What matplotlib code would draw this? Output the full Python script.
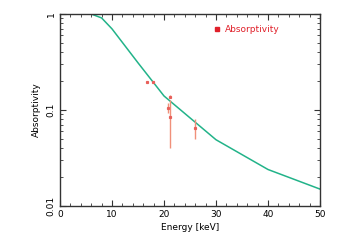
import matplotlib.pyplot as plt
from matplotlib.ticker import FixedLocator, NullFormatter

# model curve
energy = [0, 2, 4, 6, 8, 10, 15, 20, 30, 40, 50]
absorp = [1.0, 1.0, 1.0, 1.0, 0.91, 0.70, 0.31, 0.14, 0.049, 0.024, 0.015]

# measured points
meas_e = [16.8, 17.9, 20.8, 21.2, 21.2, 26.0]
meas_a = [0.197, 0.194, 0.106, 0.084, 0.138, 0.065]
meas_err = [0.005, 0.004, 0.012, 0.044, 0.005, 0.015]

fig = plt.figure(figsize=(3.54, 2.45), dpi=100)
ax = fig.add_axes([60 / 354, 1 - 206 / 245, 260 / 354, 192 / 245])

ax.plot(energy, absorp, color='#22b389', lw=1.1)
ax.errorbar(meas_e, meas_a, yerr=meas_err, fmt='none', ecolor='#f0907a', elinewidth=1.0)
ax.plot(meas_e, meas_a, ls='none', marker='s', ms=1.3, color='#e8605a')

ax.set_yscale('log')
ax.set_xlim(0, 50)
ax.set_ylim(0.01, 1)

ax.xaxis.set_major_locator(FixedLocator([0, 10, 20, 30, 40, 50]))
ax.xaxis.set_minor_locator(FixedLocator(range(0, 51, 2)))
ax.set_yticks([0.01, 0.1, 1])
ax.set_yticklabels(['0.01', '0.1', '1'], rotation=90, va='center')
ax.yaxis.set_minor_formatter(NullFormatter())

ax.tick_params(which='both', direction='in', top=True, right=True, labelsize=6.5, color='#333333')
ax.tick_params(which='major', length=4, width=0.8, pad=3)
ax.tick_params(which='minor', length=2, width=0.6)
for s in ax.spines.values():
    s.set_color('#333333')
    s.set_linewidth(1.0)

ax.set_xlabel('Energy [keV]', fontsize=6.5, labelpad=3)
ax.set_ylabel('Absorptivity', fontsize=6.5, labelpad=4)

# legend
ax.plot([], [], ls='none', marker='s', ms=3, color='#e0202a', label='Absorptivity')
leg = ax.legend(loc='upper right', bbox_to_anchor=(0.875, 0.985), frameon=False, fontsize=6.5,
                handlelength=0.6, handletextpad=0.6, labelcolor='#e0202a')

fig.savefig('out.png', dpi=100)
